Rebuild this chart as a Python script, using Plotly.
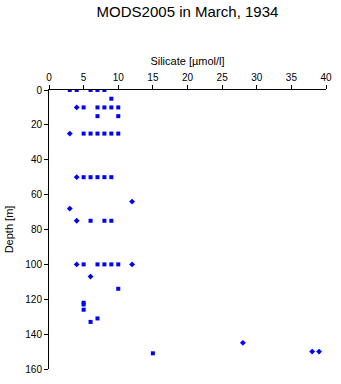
import plotly.graph_objects as go

# Square-marker observations: silicate [umol/l] and depth [m]
sq_silicate = [3, 4, 6, 7, 8,
               9,
               5, 7, 8, 9, 10,
               7, 10,
               5, 6, 7, 8, 9, 10,
               5, 6, 7, 8, 9,
               6, 8, 9,
               5, 7, 8, 9, 10,
               10,
               5, 5, 5,
               7,
               6,
               15]
sq_depth = [0, 0, 0, 0, 0,
            5,
            10, 10, 10, 10, 10,
            15, 15,
            25, 25, 25, 25, 25, 25,
            50, 50, 50, 50, 50,
            75, 75, 75,
            100, 100, 100, 100, 100,
            114,
            122, 123, 126,
            131,
            133,
            151]

# Diamond-marker observations
dm_silicate = [4, 3, 4, 12, 3, 4, 4, 12, 6, 28, 38, 39]
dm_depth = [10, 25, 50, 64, 68, 75, 100, 100, 107, 145, 150, 150]

x_ticks = [0, 5, 10, 15, 20, 25, 30, 35, 40]
y_ticks = [0, 20, 40, 60, 80, 100, 120, 140, 160]

FONT = "Liberation Sans, Arial, Helvetica, sans-serif"

fig = go.Figure()
fig.add_trace(go.Scatter(
    x=sq_silicate, y=sq_depth, mode="markers",
    marker=dict(symbol="square", size=4, color="#0000FF", line=dict(width=0)),
    showlegend=False, hoverinfo="x+y"))
fig.add_trace(go.Scatter(
    x=dm_silicate, y=dm_depth, mode="markers",
    marker=dict(symbol="diamond", size=4.5, color="#0000FF", line=dict(width=0)),
    showlegend=False, hoverinfo="x+y"))

axis_common = dict(
    showline=True, linecolor="black", linewidth=1,
    ticks="outside", ticklen=4, tickwidth=1, tickcolor="black",
    showgrid=False, zeroline=False,
    tickfont=dict(family=FONT, size=10, color="black"),
    mirror=False,
)

fig.update_layout(
    width=341, height=384,
    margin=dict(l=47, r=9, t=90, b=10),
    paper_bgcolor="white", plot_bgcolor="white",
    font=dict(family=FONT, color="black"),
    title=dict(text="MODS2005 in March, 1934", x=0.5, xref="paper",
               y=1 - 12 / 384, yref="container", yanchor="middle",
               font=dict(family=FONT, size=15, color="black")),
    xaxis=dict(range=[0, 40], side="top", tickvals=x_ticks,
               title=dict(text="Silicate [µmol/l]", standoff=4,
                          font=dict(family=FONT, size=11, color="black")),
               **axis_common),
    yaxis=dict(range=[160, 0], tickvals=y_ticks,
               title=dict(text="Depth [m]", standoff=9,
                          font=dict(family=FONT, size=11, color="black")),
               **axis_common),
)

fig.write_html("out.html")
